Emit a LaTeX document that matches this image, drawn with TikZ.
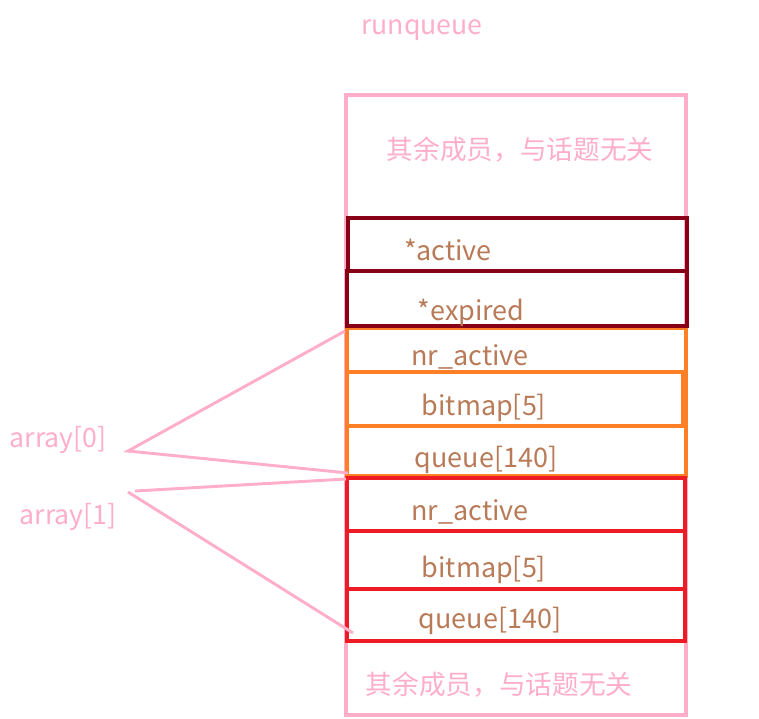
\documentclass[tikz,border=0pt]{standalone}
\usepackage{fontspec}
\setmainfont{Noto Sans CJK SC}
\usepackage{tikz}
\usetikzlibrary{positioning}
\usetikzlibrary{calc}
\definecolor{rqpink}{HTML}{FFAEC9}
\definecolor{rqbrown}{HTML}{B97A57}
\definecolor{rqdark}{HTML}{880015}
\definecolor{rqorange}{HTML}{FF7F27}
\definecolor{rqred}{HTML}{ED1C24}
\tikzstyle{field} = [text = rqbrown, inner sep = 0pt, yshift = -2.2pt, font = \fontsize{20.2}{22}\selectfont]
\tikzstyle{note} = [text = rqpink, inner sep = 0pt, yshift = -2.2pt, font = \fontsize{20}{22}\selectfont]

\begin{document}
\begin{tikzpicture}[x = 0.75pt, y = -0.75pt]
		% Styles
		\tikzstyle{outer} = [draw = rqpink, line width = 2.3pt]
		\tikzstyle{ptr} = [draw = rqdark, line width = 3.2pt]
		\tikzstyle{arr0} = [draw = rqorange, line width = 3pt]
		\tikzstyle{arr1} = [draw = rqred, line width = 3pt]
		\tikzstyle{brace} = [draw = rqpink, line width = 2.2pt]
		\useasboundingbox (0, 0) rectangle (759, 718);
		% runqueue
		\node[note] (title) at (422, 27) {runqueue};
		\draw[outer] (346, 95) rectangle (686, 715);
		\node[note] (restTop) at (520, 147) {其余成员，与话题无关};
		\node[note] (restBot) at (499, 682) {其余成员，与话题无关};
		% array[0]
		\draw[arr0] (347, 328) rectangle (686, 476);
		\draw[arr0] (347, 372) rectangle (683, 426);
		\node[field] (nrA) at (470, 354) {nr\_active};
		\node[field] (bmA) at (484, 405) {bitmap[5]};
		\node[field] (quA) at (486, 457) {queue[140]};
		% array[1]
		\draw[arr1] (347, 478) rectangle (685, 641);
		\draw[arr1] (347, 531) rectangle (685, 589);
		\node[field] (nrB) at (470, 509) {nr\_active};
		\node[field] (bmB) at (484, 567) {bitmap[5]};
		\node[field] (quB) at (490, 618) {queue[140]};
		% Pointers
		\draw[ptr] (348, 218) rectangle (687, 271);
		\draw[ptr] (347, 271) rectangle (687, 326);
		\node[field] (act) at (448, 247) {*active};
		\node[field] (exp) at (471, 310) {*expired};
		% Labels and braces
		\node[note] (lblA) at (58, 437) {array[0]};
		\node[note] (lblB) at (68, 514) {array[1]};
		\coordinate (tipA) at (128, 451);
		\coordinate (tipB) at (128, 492);
		\coordinate (tipB2) at (135, 491);
		\coordinate (aTop) at (345, 331);
		\coordinate (aBot) at (348, 473);
		\coordinate (bTop) at (346, 479);
		\coordinate (bBot) at (353, 633);
		\draw[brace] (aTop) -- (tipA) -- (aBot);
		\draw[brace] (tipB2) -- (bTop);
		\draw[brace] (tipB) -- (bBot);
	\end{tikzpicture}
\end{document}
